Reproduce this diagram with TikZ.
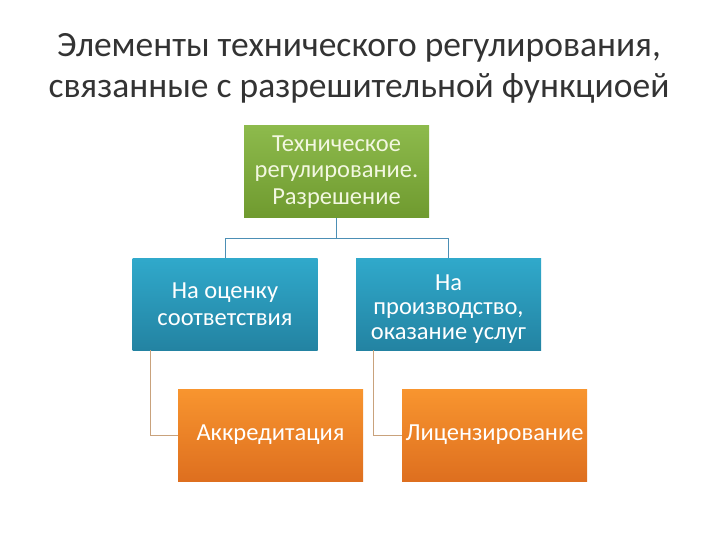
\documentclass[tikz,border=0pt]{standalone}
\usepackage{fontspec}
\setmainfont{Carlito}
\begin{document}
\begin{tikzpicture}[x=1pt,y=-1pt,
  box/.style={draw=none, minimum width=185pt, minimum height=92pt, align=center, inner sep=1pt, font=\fontsize{24.5}{26.5}\selectfont},
  greenbox/.style={box, top color=green1, bottom color=green2, text=greentext},
  bluebox/.style={box, top color=blue1, bottom color=blue2, text=white},
  orangebox/.style={box, top color=orange1, bottom color=orange2, text=white},
  bluelink/.style={draw=bluelinkc, line width=0.8pt},
  orangelink/.style={draw=orangelinkc, line width=0.8pt}]
\definecolor{green1}{HTML}{8DBA4C}
\definecolor{green2}{HTML}{6F9A2F}
\definecolor{greentext}{HTML}{F2F7E0}
\definecolor{blue1}{HTML}{30A9CB}
\definecolor{blue2}{HTML}{2383A2}
\definecolor{orange1}{HTML}{F8952F}
\definecolor{orange2}{HTML}{DE6F1F}
\definecolor{bluelinkc}{HTML}{4C8FB5}
\definecolor{orangelinkc}{HTML}{C9A27C}
\useasboundingbox (0,0) rectangle (720,540);
\node[font=\fontsize{35.5}{41}\selectfont, align=center, text=black!80] (title) at (359,68)
  {Элементы технического регулирования,\\связанные с разрешительной функциоей};
\node[greenbox] (g) at (336.5,172) {Техническое\\регулирование.\\Разрешение};
\node[bluebox] (b1) at (225,304) {На оценку\\соответствия};
\node[bluebox, font=\fontsize{24.5}{24.5}\selectfont, text depth=0pt] (b2) at (448.5,304) {\\[-3pt]На\\производство,\\оказание услуг};
\node[orangebox] (o1) at (270.5,435) {Аккредитация};
\node[orangebox] (o2) at (494.5,435) {Лицензирование};
\coordinate (j) at (336.5,238);
\draw[bluelink] (g.south) -- (j) -| (b1.north);
\draw[bluelink] (j) -| (b2.north);
\draw[orangelink] ([xshift=18pt]b1.south west) |- (o1.west);
\draw[orangelink] ([xshift=18pt]b2.south west) |- (o2.west);
\end{tikzpicture}
\end{document}
